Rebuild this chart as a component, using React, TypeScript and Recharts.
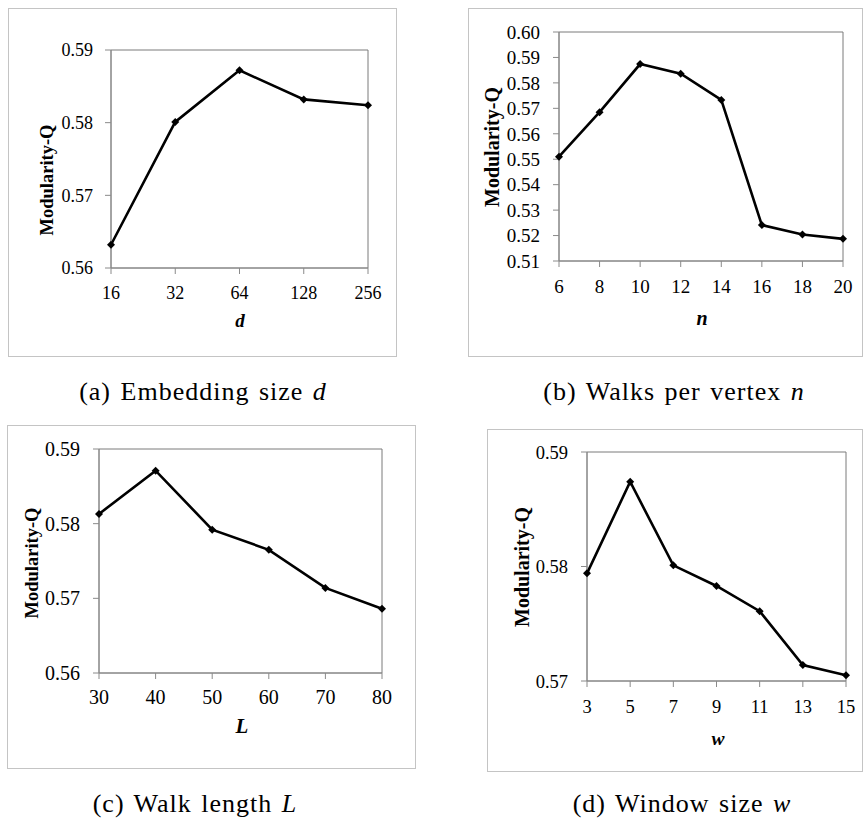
import React from 'react';
import { LineChart, Line, XAxis, YAxis, ReferenceArea } from 'recharts';

// ---- data ----
const dLabels = ['16', '32', '64', '128', '256'];
const dValues = [0.5632, 0.5801, 0.5872, 0.5832, 0.5824];

const nLabels = ['6', '8', '10', '12', '14', '16', '18', '20'];
const nValues = [0.551, 0.5685, 0.5874, 0.5836, 0.5733, 0.5241, 0.5204, 0.5187];

const lLabels = ['30', '40', '50', '60', '70', '80'];
const lValues = [0.5813, 0.5871, 0.5792, 0.5765, 0.5714, 0.5686];

const wLabels = ['3', '5', '7', '9', '11', '13', '15'];
const wValues = [0.5794, 0.5874, 0.5801, 0.5783, 0.5761, 0.5714, 0.5705];

const ticksA = [0.56, 0.57, 0.58, 0.59];
const ticksB = [0.51, 0.52, 0.53, 0.54, 0.55, 0.56, 0.57, 0.58, 0.59, 0.6];
const ticksC = [0.56, 0.57, 0.58, 0.59];
const ticksD = [0.57, 0.58, 0.59];

const yTitle = 'Modularity-Q';
const captions = [
  { tag: '(a)', text: 'Embedding size', v: 'd' },
  { tag: '(b)', text: 'Walks per vertex', v: 'n' },
  { tag: '(c)', text: 'Walk length', v: 'L' },
  { tag: '(d)', text: 'Window size', v: 'w' },
];

const SERIF = '"Liberation Serif", "Times New Roman", serif';

type Cfg = {
  box: { l: number; t: number; r: number; b: number };
  plot: { l: number; t: number; r: number; b: number };
  labels: string[];
  values: number[];
  ticks: number[];
  fs: number;
  yGap: number;
  xGap: number;
  xTitle: string;
  xt: { x: number; y: number };
  yl: { x: number; y: number };
  ylSize: number;
};

const panels: Cfg[] = [
  {
    box: { l: 8, t: 8, r: 397, b: 357 },
    plot: { l: 111, t: 50, r: 368, b: 268 },
    labels: dLabels, values: dValues, ticks: ticksA,
    fs: 18, yGap: 12, xGap: 12, xTitle: 'd',
    xt: { x: 240, y: 320 }, yl: { x: 47, y: 180 }, ylSize: 18.5,
  },
  {
    box: { l: 468, t: 8, r: 863, b: 357 },
    plot: { l: 559, t: 32, r: 843, b: 261 },
    labels: nLabels, values: nValues, ticks: ticksB,
    fs: 19, yGap: 13, xGap: 13, xTitle: 'n',
    xt: { x: 702, y: 318 }, yl: { x: 492, y: 147 }, ylSize: 20,
  },
  {
    box: { l: 7, t: 425, r: 416, b: 769 },
    plot: { l: 99, t: 449, r: 382, b: 673 },
    labels: lLabels, values: lValues, ticks: ticksC,
    fs: 20, yGap: 13, xGap: 11, xTitle: 'L',
    xt: { x: 242, y: 726 }, yl: { x: 32, y: 563 }, ylSize: 18.5,
  },
  {
    box: { l: 487, t: 429, r: 863, b: 772 },
    plot: { l: 587, t: 452, r: 846, b: 681 },
    labels: wLabels, values: wValues, ticks: ticksD,
    fs: 18.5, yGap: 13, xGap: 13, xTitle: 'w',
    xt: { x: 718, y: 738 }, yl: { x: 522, y: 567 }, ylSize: 20,
  },
];

const captionPos = [
  { x: 203, y: 392 },
  { x: 674, y: 392 },
  { x: 195, y: 804 },
  { x: 682, y: 804 },
];

const Diamond = (p: any) => {
  const { cx, cy, index } = p;
  if (cx == null || cy == null) return <g key={`e${index}`} />;
  const s = 4;
  return (
    <path
      key={`dm${index}`}
      d={`M${cx},${cy - s}L${cx + s},${cy}L${cx},${cy + s}L${cx - s},${cy}Z`}
      fill="#000"
      stroke="none"
    />
  );
};

function Panel({ cfg }: { cfg: Cfg }) {
  const { box, plot } = cfg;
  const w = box.r - box.l;
  const h = box.b - box.t;
  const data = cfg.labels.map((x, i) => ({ x, y: cfg.values[i] }));
  const yMin = cfg.ticks[0];
  const yMax = cfg.ticks[cfg.ticks.length - 1];
  const ylx = cfg.yl.x - box.l;
  const yly = cfg.yl.y - box.t;
  return (
    <div style={{ position: 'absolute', left: box.l, top: box.t, width: w, height: h }}>
      <div
        style={{
          position: 'absolute', left: 0, top: 0, width: w, height: h,
          border: '1.5px solid #c4c4c4', boxSizing: 'border-box',
        }}
      />
      <div style={{ position: 'absolute', left: 0, top: 0 }}>
        <LineChart
          width={w}
          height={h}
          data={data}
          margin={{ top: plot.t - box.t, right: box.r - plot.r, left: 0, bottom: 0 }}
        >
          <ReferenceArea
            x1={cfg.labels[0]}
            x2={cfg.labels[cfg.labels.length - 1]}
            y1={yMin}
            y2={yMax}
            fill="none"
            stroke="#7a7a7a"
            strokeWidth={1}
            fillOpacity={0}
            ifOverflow="visible"
          />
          <XAxis
            dataKey="x"
            type="category"
            scale="point"
            padding={{ left: 0, right: 0 }}
            height={box.b - plot.b}
            interval={0}
            stroke="#8a8a8a"
            tickSize={6}
            tickMargin={cfg.xGap}
            tick={{ fill: '#000', fontSize: cfg.fs, fontFamily: SERIF }}
            tickLine={{ stroke: '#8a8a8a' }}
            label={{
              content: () => (
                <text
                  x={cfg.xt.x - box.l}
                  y={cfg.xt.y - box.t}
                  textAnchor="middle"
                  dominantBaseline="central"
                  fontFamily={SERIF}
                  fontWeight="bold"
                  fontStyle="italic"
                  fontSize={cfg.fs + 1}
                  fill="#000"
                >
                  {cfg.xTitle}
                </text>
              ),
            }}
          />
          <YAxis
            type="number"
            domain={[yMin, yMax]}
            ticks={cfg.ticks}
            interval={0}
            allowDataOverflow
            width={plot.l - box.l}
            stroke="#8a8a8a"
            tickSize={6}
            tickMargin={cfg.yGap}
            tickFormatter={(v: number) => v.toFixed(2)}
            tick={{ fill: '#000', fontSize: cfg.fs, fontFamily: SERIF }}
            tickLine={{ stroke: '#8a8a8a' }}
            label={{
              content: () => (
                <text
                  x={ylx}
                  y={yly}
                  transform={`rotate(-90 ${ylx} ${yly})`}
                  textAnchor="middle"
                  dominantBaseline="central"
                  fontFamily={SERIF}
                  fontWeight="bold"
                  fontSize={cfg.ylSize}
                  fill="#000"
                >
                  {yTitle}
                </text>
              ),
            }}
          />
          <Line
            type="linear"
            dataKey="y"
            stroke="#000"
            strokeWidth={2.6}
            dot={Diamond}
            activeDot={false}
            isAnimationActive={false}
          />
        </LineChart>
      </div>
    </div>
  );
}

export default function App() {
  return (
    <div
      style={{
        position: 'absolute', left: 0, top: 0, width: 865, height: 820,
        background: '#fff', overflow: 'hidden',
      }}
    >
      {panels.map((p, i) => (
        <Panel key={i} cfg={p} />
      ))}
      {captions.map((c, i) => (
        <div
          key={`c${i}`}
          style={{
            position: 'absolute',
            left: captionPos[i].x,
            top: captionPos[i].y,
            transform: 'translate(-50%, -50%)',
            whiteSpace: 'nowrap',
            fontFamily: SERIF,
            fontSize: 26,
            letterSpacing: 1,
            wordSpacing: 2,
            color: '#000',
            lineHeight: 1,
          }}
        >
          {c.tag} {c.text} <i>{c.v}</i>
        </div>
      ))}
    </div>
  );
}
